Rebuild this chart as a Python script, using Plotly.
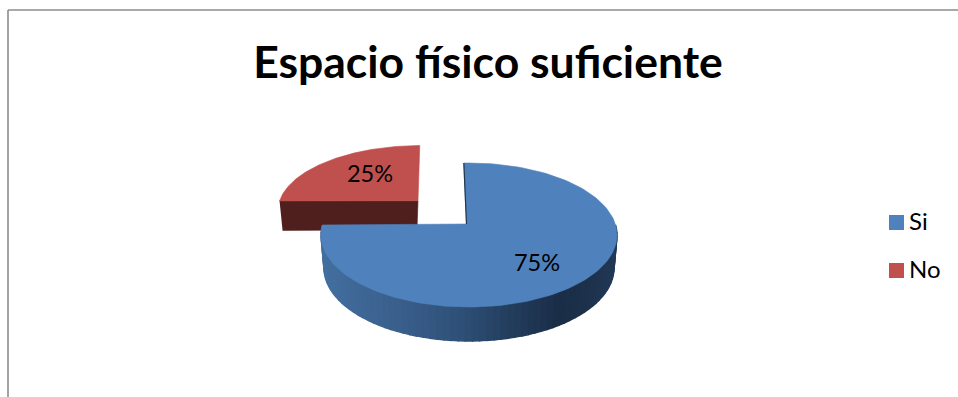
import numpy as np
import plotly.graph_objects as go

# Chart content
TITLE = "Espacio físico suficiente"
labels = ["Si", "No"]
shares = [75, 25]
slice_colors = ["#4F81BD", "#C0504D"]

# Pie projection: squashed ellipse centres in page pixels (y runs downward)
BLUE_APEX = (466.5, 224.0)
BLUE_TOP = dict(cx=469.0, cy=235.0, rx=148.0, ry=72.0)
BLUE_FLOOR = dict(cx=469.0, cy=268.0, rx=145.0, ry=73.0)
RED_APEX = (418.0, 200.7)
RED_TOP = dict(cx=421.0, cy=210.5, rx=143.0, ry=65.0)
START_DEG = 92.0
PERSPECTIVE = 1.037  # stretches the sweep because the apex sits behind the ellipse centre

# Shading of the blue rim, keyed by horizontal position
rim_x = [321, 400, 460, 510, 560, 590, 620]
rim_r = [68, 58, 47, 36, 27, 30, 34]
rim_g = [112, 95, 81, 62, 46, 50, 58]
rim_b = [160, 140, 120, 94, 72, 76, 88]


def ellipse(e, t_deg):
    t = np.radians(t_deg)
    return e["cx"] + e["rx"] * np.cos(t), e["cy"] - e["ry"] * np.sin(t)


def wedge(apex, e, start, sweep):
    ts = np.linspace(start, start - sweep, 160)
    x, y = ellipse(e, ts)
    return [apex[0], *x, apex[0]], [apex[1], *y, apex[1]]


def polygon(x, y, color, width=0.6):
    return go.Scatter(x=x, y=y, mode="lines", fill="toself", fillcolor=color,
                      line=dict(color=color, width=width), hoverinfo="skip", showlegend=False)


fig = go.Figure()

# Exploded slice "No": flat cut wall, then its top face (it opens back towards nine o'clock)
sweep_red = -shares[1] * 3.6 * 0.9
rx, ry = wedge(RED_APEX, RED_TOP, START_DEG - 1.5, sweep_red)
left_x, left_y = rx[-2], ry[-2]
fig.add_trace(polygon([left_x, RED_APEX[0], RED_APEX[0] - 1, left_x + 3],
                      [left_y, RED_APEX[1], RED_APEX[1] + 29, left_y + 29.5], "#4F1F1D"))
fig.add_trace(polygon(rx, ry, slice_colors[1]))

# Rim of the big slice, drawn as narrow shaded quads
sweep_blue = shares[0] * 3.6 * PERSPECTIVE
end_t = START_DEG - sweep_blue
edges = np.linspace(end_t, 8, 70)
for a, b in zip(edges[:-1], edges[1:]):
    xa, ya = ellipse(BLUE_TOP, a)
    xb, yb = ellipse(BLUE_TOP, b)
    xc, yc = ellipse(BLUE_FLOOR, b)
    xd, yd = ellipse(BLUE_FLOOR, a)
    mid = (xa + xb) / 2
    shade = "rgb(%d,%d,%d)" % tuple(np.interp(mid, rim_x, c) for c in (rim_r, rim_g, rim_b))
    fig.add_trace(polygon([xa, xb, xc, xd, xa], [ya, yb, yc, yd, ya], shade, width=1.4))

# Top face of the big slice and the sliver of its cut wall
bx, by = wedge(BLUE_APEX, BLUE_TOP, START_DEG, sweep_blue)
fig.add_trace(polygon(bx, by, slice_colors[0]))
fig.add_trace(go.Scatter(x=[bx[1], BLUE_APEX[0]], y=[by[1], BLUE_APEX[1]], mode="lines",
                         line=dict(color="#20364F", width=1.2), hoverinfo="skip", showlegend=False))

# Percentage labels
fig.add_trace(go.Scatter(x=[537, 370], y=[265, 176], mode="text",
                         text=[f"{v}%" for v in shares],
                         textfont=dict(family="Lato, Carlito, sans-serif", size=23.5, color="#000000"),
                         hoverinfo="skip", showlegend=False))

# Legend keys and their captions
for label, color, ky in zip(labels, slice_colors, [222.5, 270.5]):
    fig.add_trace(go.Scatter(x=[896.5], y=[ky], mode="markers",
                             marker=dict(symbol="square", size=15, color=color),
                             hoverinfo="skip", showlegend=False))
    fig.add_trace(go.Scatter(x=[909], y=[ky + 1], mode="text", text=[label],
                             textposition="middle right",
                             textfont=dict(family="Lato, Carlito, sans-serif", size=24, color="#000000"),
                             hoverinfo="skip", showlegend=False))

fig.update_layout(
    width=958, height=397, margin=dict(l=0, r=0, t=0, b=0),
    paper_bgcolor="#FFFFFF", plot_bgcolor="#FFFFFF",
    xaxis=dict(range=[0, 958], visible=False, fixedrange=True),
    yaxis=dict(range=[397, 0], visible=False, fixedrange=True),
    title=dict(text=f"<b>{TITLE}</b>", x=488 / 958, xanchor="center", y=1 - 62 / 397, yanchor="middle",
               font=dict(family="Lato, Carlito, sans-serif", size=44.5, color="#000000")),
    shapes=[
        dict(type="line", x0=8, x1=8, y0=10, y1=397, line=dict(color="#8C8C8C", width=1.6)),
        dict(type="line", x0=8, x1=958, y0=10, y1=10, line=dict(color="#8C8C8C", width=1.6)),
    ],
)

fig.write_html("out.html", config=dict(displayModeBar=False))
